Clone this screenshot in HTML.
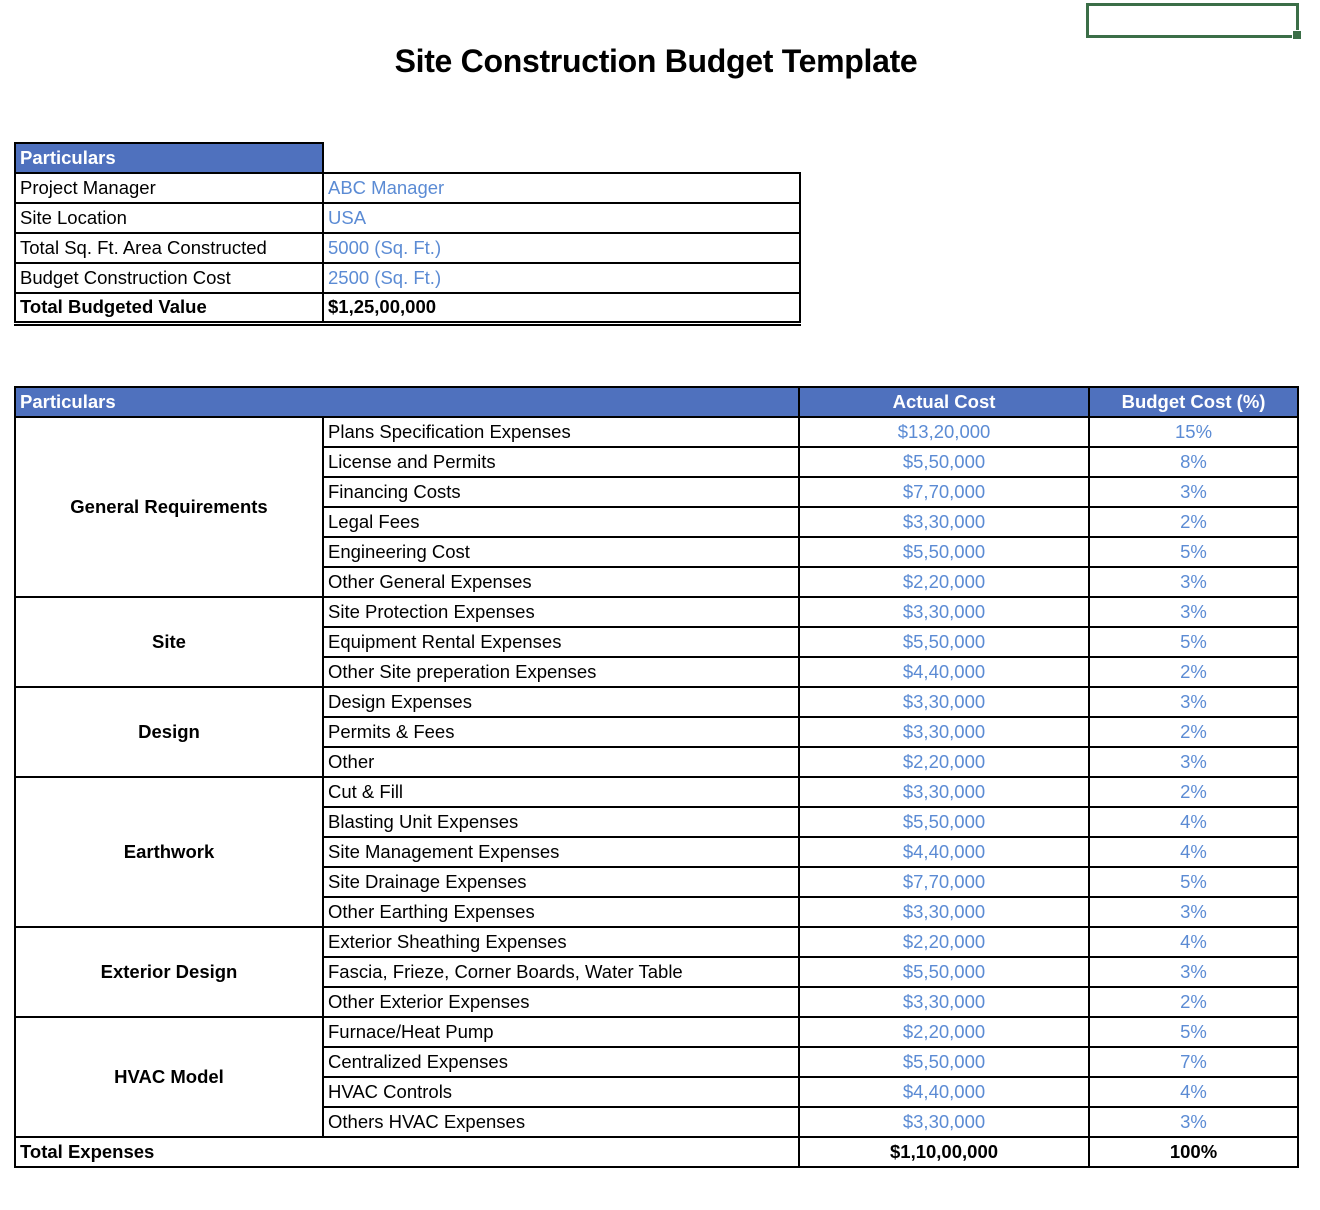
<!DOCTYPE html>
<html><head><meta charset="utf-8"><style>
*{margin:0;padding:0;box-sizing:border-box}
body{width:1320px;height:1210px;background:#fff;position:relative;font-family:"Liberation Sans",Arial,sans-serif;font-size:18.5px;color:#000;overflow:hidden}
.title{position:absolute;left:0;width:1312px;top:43px;text-align:center;font-weight:bold;font-size:32px;letter-spacing:-0.3px}
.sel{position:absolute;left:1086px;top:3px;width:213px;height:35px;border:3px solid #3b6e47}
.h{position:absolute;left:1292px;top:30px;width:10px;height:10px;background:#3b6e47;border:1px solid #fff}
table{position:absolute;border-collapse:collapse;table-layout:fixed}
td{border:2px solid #000;height:30px;padding:0 4px;white-space:nowrap;overflow:hidden;line-height:26px}
.b{background:#4f71be;color:#fff;font-weight:bold}
.v{color:#5b8bd4}
.c{text-align:center}
.bd{font-weight:bold}
</style></head><body>
<div class="title">Site Construction Budget Template</div>
<div class="sel"></div><div class="h"></div>
<table style="left:14px;top:142px;width:785px">
<colgroup><col style="width:308px"><col style="width:477px"></colgroup>
<tr><td class="b">Particulars</td><td style="border:none;border-bottom:2px solid #000;border-left:2px solid #000"></td></tr>
<tr><td>Project Manager</td><td class="v">ABC Manager</td></tr>
<tr><td>Site Location</td><td class="v">USA</td></tr>
<tr><td>Total Sq. Ft. Area Constructed</td><td class="v">5000 (Sq. Ft.)</td></tr>
<tr><td>Budget Construction Cost</td><td class="v">2500 (Sq. Ft.)</td></tr>
<tr><td class="bd" style="border-bottom:5px double #000">Total Budgeted Value</td><td class="bd" style="border-bottom:5px double #000">$1,25,00,000</td></tr>
</table>
<table style="left:14px;top:386px;width:1283px">
<colgroup><col style="width:308px"><col style="width:476px"><col style="width:290px"><col style="width:209px"></colgroup>
<tr><td class="b" colspan="2">Particulars</td><td class="b c">Actual Cost</td><td class="b c">Budget Cost (%)</td></tr>
<tr><td rowspan="6" class="bd c">General Requirements</td><td>Plans Specification Expenses</td><td class="v c">$13,20,000</td><td class="v c">15%</td></tr>
<tr><td>License and Permits</td><td class="v c">$5,50,000</td><td class="v c">8%</td></tr>
<tr><td>Financing Costs</td><td class="v c">$7,70,000</td><td class="v c">3%</td></tr>
<tr><td>Legal Fees</td><td class="v c">$3,30,000</td><td class="v c">2%</td></tr>
<tr><td>Engineering Cost</td><td class="v c">$5,50,000</td><td class="v c">5%</td></tr>
<tr><td>Other General Expenses</td><td class="v c">$2,20,000</td><td class="v c">3%</td></tr>
<tr><td rowspan="3" class="bd c">Site</td><td>Site Protection Expenses</td><td class="v c">$3,30,000</td><td class="v c">3%</td></tr>
<tr><td>Equipment Rental Expenses</td><td class="v c">$5,50,000</td><td class="v c">5%</td></tr>
<tr><td>Other Site preperation Expenses</td><td class="v c">$4,40,000</td><td class="v c">2%</td></tr>
<tr><td rowspan="3" class="bd c">Design</td><td>Design Expenses</td><td class="v c">$3,30,000</td><td class="v c">3%</td></tr>
<tr><td>Permits &amp; Fees</td><td class="v c">$3,30,000</td><td class="v c">2%</td></tr>
<tr><td>Other</td><td class="v c">$2,20,000</td><td class="v c">3%</td></tr>
<tr><td rowspan="5" class="bd c">Earthwork</td><td>Cut &amp; Fill</td><td class="v c">$3,30,000</td><td class="v c">2%</td></tr>
<tr><td>Blasting Unit Expenses</td><td class="v c">$5,50,000</td><td class="v c">4%</td></tr>
<tr><td>Site Management Expenses</td><td class="v c">$4,40,000</td><td class="v c">4%</td></tr>
<tr><td>Site Drainage Expenses</td><td class="v c">$7,70,000</td><td class="v c">5%</td></tr>
<tr><td>Other Earthing Expenses</td><td class="v c">$3,30,000</td><td class="v c">3%</td></tr>
<tr><td rowspan="3" class="bd c">Exterior Design</td><td>Exterior Sheathing Expenses</td><td class="v c">$2,20,000</td><td class="v c">4%</td></tr>
<tr><td>Fascia, Frieze, Corner Boards, Water Table</td><td class="v c">$5,50,000</td><td class="v c">3%</td></tr>
<tr><td>Other Exterior Expenses</td><td class="v c">$3,30,000</td><td class="v c">2%</td></tr>
<tr><td rowspan="4" class="bd c">HVAC Model</td><td>Furnace/Heat Pump</td><td class="v c">$2,20,000</td><td class="v c">5%</td></tr>
<tr><td>Centralized Expenses</td><td class="v c">$5,50,000</td><td class="v c">7%</td></tr>
<tr><td>HVAC Controls</td><td class="v c">$4,40,000</td><td class="v c">4%</td></tr>
<tr><td>Others HVAC Expenses</td><td class="v c">$3,30,000</td><td class="v c">3%</td></tr>
<tr><td colspan="2" class="bd">Total Expenses</td><td class="bd c">$1,10,00,000</td><td class="bd c">100%</td></tr>
</table>
</body></html>
